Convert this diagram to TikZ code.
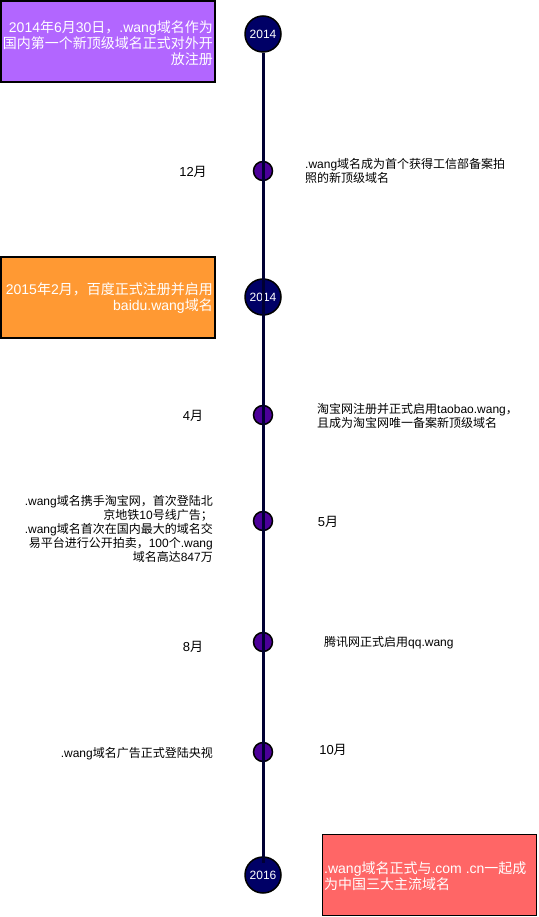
\documentclass[tikz,border=0pt]{standalone}
\usepackage{fontspec}
\setmainfont{Liberation Sans}
\newfontfamily\cjkfont{Noto Sans CJK SC}
\newfontfamily\latinfont{Liberation Sans}
\usetikzlibrary{positioning}

% switch to the CJK font for ideographs and full-width punctuation
\XeTeXinterchartokenstate=1
\newXeTeXintercharclass\cjkclass
\newcount\cjkcnt
\def\cjkrange#1#2{\cjkcnt=#1
  \loop\XeTeXcharclass\cjkcnt=\cjkclass
  \ifnum\cjkcnt<#2 \advance\cjkcnt by 1 \repeat}
\cjkrange{"3000}{"303F}
\cjkrange{"4E00}{"9FFF}
\cjkrange{"FF00}{"FFEF}
\XeTeXinterchartoks 0 \cjkclass = {\cjkfont}
\XeTeXinterchartoks 4095 \cjkclass = {\cjkfont}
\XeTeXinterchartoks \cjkclass 0 = {\latinfont}

\definecolor{yearfill}{HTML}{000066}
\definecolor{axiscol}{HTML}{000033}
\definecolor{dotfill}{HTML}{4C0099}
\definecolor{boxpurple}{HTML}{B266FF}
\definecolor{boxorange}{HTML}{FF9933}
\definecolor{boxred}{HTML}{FF6666}

\begin{document}
\begin{tikzpicture}[x=1pt, y=-1pt,
    event/.style={draw=black, line width=1.5pt, minimum width=214pt,
      minimum height=81pt, inner sep=0pt},
    evtext/.style={text=white, inner sep=0pt,
      font=\fontsize{14}{16}\selectfont},
    year/.style={circle, draw=black, line width=1.5pt, fill=yearfill,
      minimum size=36pt, inner sep=0pt, text=white,
      font=\fontsize{12}{14}\selectfont},
    dot/.style={circle, draw=black, line width=1.5pt, fill=dotfill,
      minimum size=19pt, inner sep=0pt},
    month/.style={inner sep=0pt, font=\fontsize{13}{15}\selectfont},
    note/.style={inner sep=0pt, font=\fontsize{12}{14}\selectfont},
    axis/.style={draw=axiscol, line width=3pt},
  ]
  \useasboundingbox (0,0) rectangle (538,917);

  % --- highlighted events ---
  \node[event, fill=boxpurple] (ev1) at (108,41.5) {};
  \node[evtext, align=right, anchor=east] at (213,43)
    {2014年6月30日，.wang域名作为\\国内第一个新顶级域名正式对外开\\放注册};
  \node[event, fill=boxorange] (ev2) at (108,297.5) {};
  \node[evtext, align=right, anchor=east] at (213,298)
    {2015年2月，百度正式注册并启用\\baidu.wang域名};
  \node[event, fill=boxred] (ev3) at (429.5,875) {};
  \node[evtext, align=left, anchor=west] at (324,876)
    {.wang域名正式与.com .cn一起成\\为中国三大主流域名};

  % --- timeline markers ---
  \node[year] (y14a) at (263,34) {2014};
  \node[year] (y14b) at (263,297) {2014};
  \node[year] (y16) at (263,875) {2016};
  \node[dot] (m1) at (263,171) {};
  \node[dot] (m2) at (263,415) {};
  \node[dot] (m3) at (263,521) {};
  \node[dot] (m4) at (263,642) {};
  \node[dot] (m5) at (263,752) {};

  % axis over the markers
  \coordinate (axisend) at (263,863);
  \draw[axis] (y14a.south) -- (axisend);

  % --- months ---
  \node[month] (l1) at (193,172) {12月};
  \node[month] (l2) at (193,416) {4月};
  \node[month] (l3) at (328,522) {5月};
  \node[month] (l4) at (193,647) {8月};
  \node[month] (l5) at (333,750) {10月};

  % --- notes ---
  \node[note, align=left, anchor=west] (n1) at (305,171)
    {.wang域名成为首个获得工信部备案拍\\照的新顶级域名};
  \node[note, align=left, anchor=west] (n2) at (317,416)
    {淘宝网注册并正式启用taobao.wang，\\且成为淘宝网唯一备案新顶级域名};
  \node[note, align=right, anchor=east] (n3) at (213,529)
    {.wang域名携手淘宝网，首次登陆北\\京地铁10号线广告；\\.wang域名首次在国内最大的域名交\\易平台进行公开拍卖，100个.wang\\域名高达847万};
  \node[note, align=left, anchor=west] (n4) at (324,643)
    {腾讯网正式启用qq.wang};
  \node[note, align=right, anchor=east] (n5) at (213,754)
    {.wang域名广告正式登陆央视};

\end{tikzpicture}
\end{document}
